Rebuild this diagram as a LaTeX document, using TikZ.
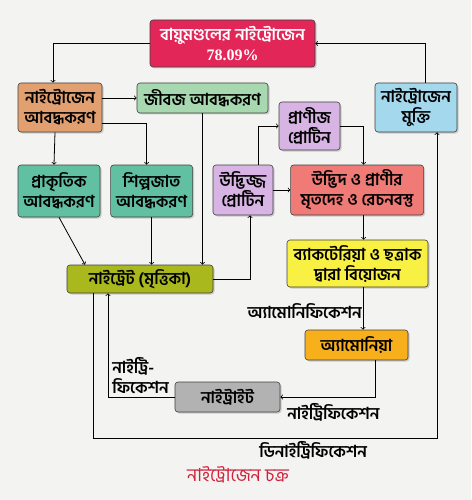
\documentclass[tikz,border=0pt]{standalone}
\usepackage{fontspec}
\newfontfamily\bn[Script=Bengali]{Hind Siliguri}
\newfontfamily\numfont{Liberation Serif}
\usetikzlibrary{positioning,arrows,calc,shadows}

\definecolor{airred}{HTML}{E32658}
\definecolor{fixtan}{HTML}{E2A070}
\definecolor{biogreen}{HTML}{A8D8B0}
\definecolor{protlilac}{HTML}{D8B4E4}
\definecolor{relblue}{HTML}{A4D8EC}
\definecolor{fixteal}{HTML}{62C0A2}
\definecolor{deadred}{HTML}{F07A76}
\definecolor{soilolive}{HTML}{A9B81C}
\definecolor{decyellow}{HTML}{F8F042}
\definecolor{ammorange}{HTML}{F7B01C}
\definecolor{nitgray}{HTML}{B2B2B2}
\definecolor{paper}{HTML}{F3F3F1}
\definecolor{titlered}{HTML}{D0203C}

\tikzset{
  box/.style={draw=black!75, line width=0.6pt, rounded corners=3pt, align=center, inner sep=0.5pt,
    font=\bn\bfseries\fontsize{16.5}{20}\selectfont,
    drop shadow={shadow xshift=1.5pt, shadow yshift=-1.5pt, opacity=0.35}},
  lbl/.style={font=\bn\bfseries\fontsize{16.5}{20}\selectfont, inner sep=1pt},
}

\begin{document}
\begin{tikzpicture}[x=1pt,y=-1pt,line width=0.8pt]

    \fill[paper] (0,0) rectangle (471,500);
    \useasboundingbox (0,0) rectangle (471,500);

    \node (AIR) [box, fill=airred, text=white, minimum width=165pt, minimum height=47pt] at (232.5,43.5) {বায়ুমণ্ডলের নাইট্রোজেন\\{\numfont\bfseries\fontsize{16}{18}\selectfont 78.09\%}};
    \node (FIX) [box, fill=fixtan, minimum width=84pt, minimum height=49pt] at (60,107.5) {নাইট্রোজেন\\আবদ্ধকরণ};
    \node (BIO) [box, fill=biogreen, minimum width=131pt, minimum height=30pt] at (202.5,98) {জীবজ আবদ্ধকরণ};
    \node (ANP) [box, fill=protlilac, minimum width=61pt, minimum height=48pt] at (309.5,126) {প্রাণীজ\\প্রোটিন};
    \node (REL) [box, fill=relblue, minimum width=82pt, minimum height=49pt] at (416,107.5) {নাইট্রোজেন\\মুক্তি};
    \node (NAT) [box, fill=fixteal, minimum width=82pt, minimum height=52pt] at (59,191) {প্রাকৃতিক\\আবদ্ধকরণ};
    \node (IND) [box, fill=fixteal, minimum width=82pt, minimum height=52pt, right=10pt of NAT] {শিল্পজাত\\আবদ্ধকরণ};
    \node (PLP) [box, fill=protlilac, minimum width=60pt, minimum height=50pt] at (243,190) {উদ্ভিজ্জ\\প্রোটিন};
    \node (DEAD) [box, fill=deadred, minimum width=133pt, minimum height=50pt, right=17pt of PLP] {উদ্ভিদ ও প্রাণীর\\মৃতদেহ ও রেচনবস্তু};
    \node (NO3) [box, fill=soilolive, minimum width=146pt, minimum height=28pt] at (140,279) {নাইট্রেট (মৃত্তিকা)};
    \node (DEC) [box, fill=decyellow, minimum width=141pt, minimum height=47pt] at (357.5,263.5) {ব্যাকটেরিয়া ও ছত্রাক\\দ্বারা বিয়োজন};
    \node (NH3) [box, fill=ammorange, minimum width=103pt, minimum height=30pt] at (356.5,345) {অ্যামোনিয়া};
    \node (NO2) [box, fill=nitgray, minimum width=105pt, minimum height=30pt] at (227.5,397) {নাইট্রাইট};
    \node (T) [lbl, text=titlered, font=\bn\fontsize{18}{20}\selectfont] at (238,475) {নাইট্রোজেন চক্র};

    \coordinate (DN) at (437,438);

    % fixation
    \draw[->] (AIR.west) -| ([xshift=-7pt]FIX.north);
    \path[->] (FIX.east |- BIO.west) edge (BIO.west);
    \draw[->] ($(FIX.south east)+(0,-9)$) -| ([xshift=-5pt]IND.north);
    \path[->] ([xshift=-5pt]FIX.south) edge ([xshift=-5pt]NAT.north);
    \path[->] (NAT.south) edge ([xshift=-55pt]NO3.north);
    \path[->] (IND.south) edge (IND.south |- NO3.north);
    \path[->] (BIO.south) edge (BIO.south |- NO3.north);

    % proteins
    \draw[->] (NO3.east) -| ([xshift=7pt]PLP.south);
    \draw[->] ([xshift=15pt]PLP.north) |- (ANP.west);
    \draw[->] (ANP.east) -| ([xshift=6.5pt]DEAD.north);
    \path[->] (PLP.east) edge (DEAD.west);
    \path[->] ([xshift=6.5pt]DEAD.south) edge ([xshift=6.5pt]DEAD.south |- DEC.north);
    \path[->] ([xshift=5.5pt]DEC.south) edge node[lbl, pos=0.56, left] {অ্যামোনিফিকেশন} ([xshift=5.5pt]DEC.south |- NH3.north);

    % nitrification
    \draw[->] ([xshift=18.5pt]NH3.south) |- node[lbl, pos=0.72, below=5pt] {নাইট্রিফিকেশন} (NO2.east);
    \draw[->] (NO2.west) -| node[lbl, pos=0.5, anchor=south west, align=left, xshift=3pt, yshift=2pt] {নাইট্রি-\\ফিকেশন} ([xshift=-32pt]NO3.south);

    % denitrification
    \draw[->] ([xshift=-47pt]NO3.south) |- node[lbl, pos=0.82, below=2pt] {ডিনাইট্রিফিকেশন} (DN) -- (DN |- REL.south);
    \draw[->] ([xshift=9pt]REL.north) |- (AIR.east);

\end{tikzpicture}
\end{document}
